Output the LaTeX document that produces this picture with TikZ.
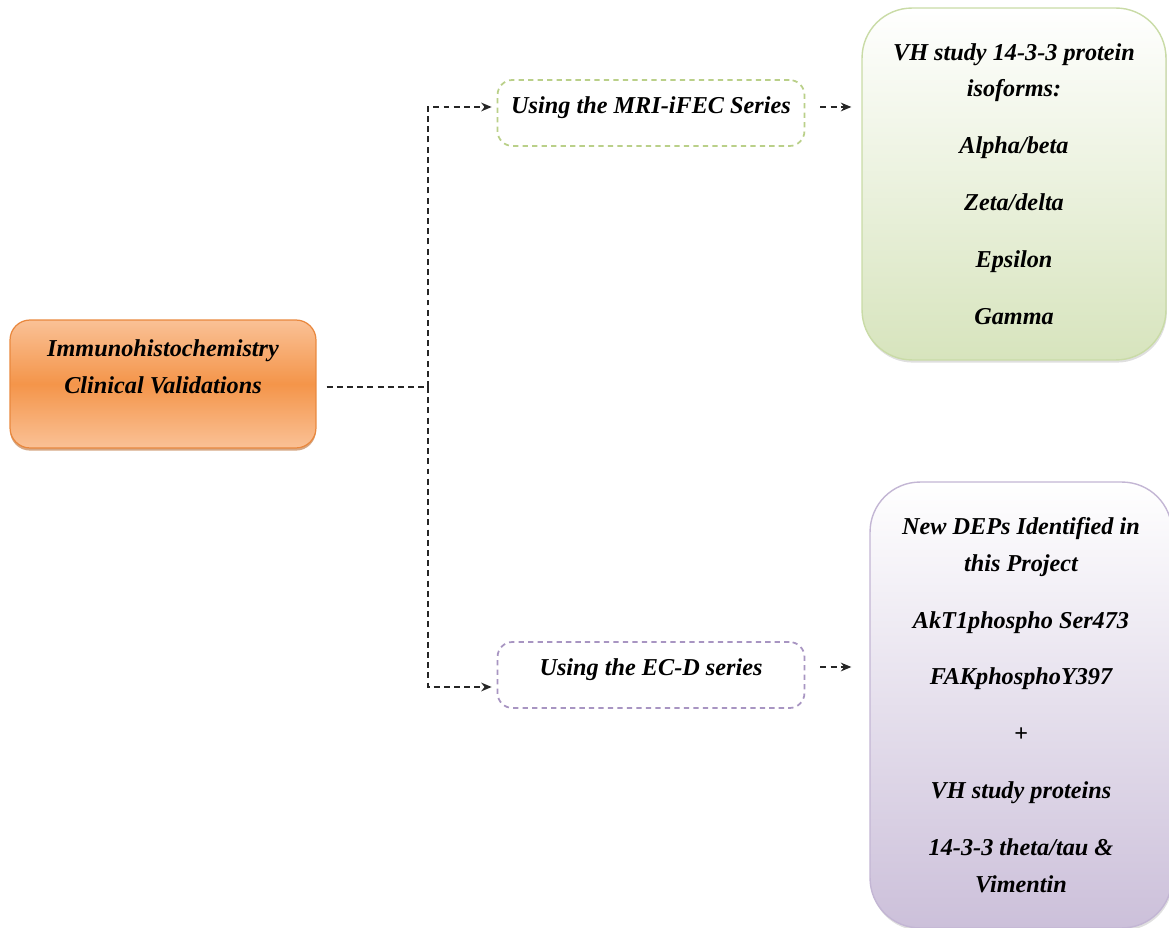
\documentclass[tikz,border=0pt]{standalone}
\usepackage{fontspec}
\setmainfont{Liberation Serif}
\usetikzlibrary{arrows.meta,shadows}

\definecolor{ihcmid}{HTML}{F4954A}
\definecolor{ihcedge}{HTML}{FAC196}
\definecolor{ihcline}{HTML}{E9883E}
\definecolor{isogreen}{HTML}{D7E4BD}
\definecolor{isoline}{HTML}{C9DBA6}
\definecolor{mrigreen}{HTML}{A9C46C}
\definecolor{deppurple}{HTML}{CCC0DA}
\definecolor{depline}{HTML}{C3B6D4}
\definecolor{ecdpurple}{HTML}{A895C2}

\begin{document}
\begin{tikzpicture}[x=0.02cm,y=-0.02cm,line width=0.7pt,>={Stealth[length=6pt,width=5pt]},
  txt/.style={font=\fontsize{13.8}{21}\selectfont\bfseries\itshape,align=center},
  link/.style={black!85,line width=0.7pt,dash pattern=on 3.4pt off 2.4pt},
  ihcbox/.style={draw=ihcline,rounded corners=0.4cm,minimum width=6.12cm,minimum height=2.56cm,
    top color=ihcedge,bottom color=ihcedge,middle color=ihcmid,
    drop shadow={shadow xshift=0pt,shadow yshift=-1.5pt,opacity=0.6,fill=ihcline!80!black}},
  seriesbox/.style={rounded corners=0.3cm,minimum width=6.14cm,minimum height=1.32cm,
    line width=1pt,dash pattern=on 3pt off 2.4pt,fill=white,text depth=9pt},
  listbox/.style={rounded corners=1cm,line width=0.8pt,
    drop shadow={shadow xshift=0.5pt,shadow yshift=-1.5pt,opacity=0.25}},
]
\useasboundingbox (0,0) rectangle (1169,928);
% ---------- left: starting box ----------
\node[ihcbox] (ihc) at (163,384) {};
\node[txt] (ihctxt) at (163,367) {Immunohistochemistry\\Clinical Validations};
% ---------- middle: the two series ----------
\node[seriesbox,draw=mrigreen!80,txt] (mri) at (651,113) {Using the MRI-iFEC Series};
\node[seriesbox,draw=ecdpurple,txt] (ecd) at (651,675) {Using the EC-D series};
% ---------- right: protein lists ----------
\node[listbox,draw=isoline,top color=white,bottom color=isogreen,
  minimum width=6.08cm,minimum height=7.04cm,txt] (iso) at (1014,184)
  {VH study 14-3-3 protein\\isoforms:\\[0.4cm]Alpha/beta\\[0.4cm]Zeta/delta\\[0.4cm]Epsilon\\[0.4cm]Gamma};
\node[listbox,draw=depline,top color=white,bottom color=deppurple,
  minimum width=6.04cm,minimum height=8.92cm,txt] (dep) at (1021,705)
  {New DEPs Identified in\\this Project\\[0.4cm]AkT1phospho Ser473\\[0.4cm]FAKphosphoY397\\[0.4cm]+\\[0.4cm]VH study proteins\\[0.4cm]14-3-3 theta/tau \&\\Vimentin};
% ---------- connectors ----------
\coordinate (split) at (428,387);
\draw[link,shorten <=0.2cm] (ihc.east |- split) -- (split);
\draw[link,->,shorten >=0.1cm] (split) |- ([yshift=0.12cm]mri.west);
\draw[link,->,shorten >=0.1cm] (split) |- ([yshift=-0.24cm]ecd.west);
\draw[link,->,shorten <=0.3cm,shorten >=0.2cm] ([yshift=0.12cm]mri.east) -- ([yshift=0.12cm]mri.east -| iso.west);
\draw[link,->,shorten <=0.3cm,shorten >=0.36cm] ([yshift=0.16cm]ecd.east) -- ([yshift=0.16cm]ecd.east -| dep.west);
\end{tikzpicture}
\end{document}
